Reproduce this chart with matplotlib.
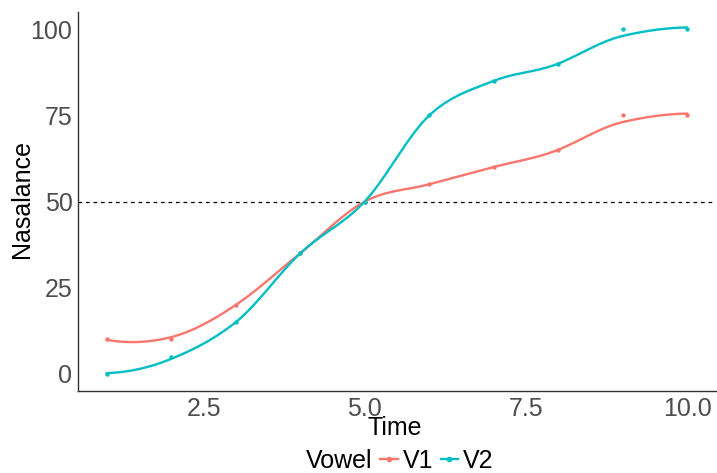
import numpy as np
import matplotlib.pyplot as plt
from matplotlib.lines import Line2D

plt.rcParams['font.family'] = ['Liberation Sans', 'DejaVu Sans']

time = [1, 2, 3, 4, 5, 6, 7, 8, 9, 10]
v1 = [10, 10, 20, 35, 50, 55, 60, 65, 75, 75]
v2 = [0, 5, 15, 35, 50, 75, 85, 90, 100, 100]
vowels = ['V1', 'V2']
colours = ['#F8766D', '#00BFC4']
yticks = [0, 25, 50, 75, 100]
xticks = [2.5, 5.0, 7.5, 10.0]

SPAN = 0.5


def local_fit(x, y, x0, span):
    # quadratic fit around x0 with tricube weights -> value and slope
    q = int(np.floor(len(x) * span))
    d = np.abs(x - x0)
    h = np.sort(d)[q - 1]
    w = np.clip(1 - (d / h) ** 3, 0, None) ** 3
    X = np.vstack([np.ones_like(x), x - x0, (x - x0) ** 2]).T
    W = np.diag(w)
    beta = np.linalg.lstsq(X.T @ W @ X, X.T @ W @ y, rcond=None)[0]
    return beta[0], beta[1]


def kd_vertices(x, span, cell=0.2):
    # split cells at the median point until few enough points are left
    fc = max(int(np.floor(len(x) * span * cell)), 1)
    xs = np.sort(x)
    lo, hi = xs[0], xs[-1]
    mu = 0.005 * (hi - lo)
    verts = [lo - mu, hi + mu]

    def split(pts):
        if len(pts) <= fc:
            return
        m = (len(pts) - 1) // 2
        verts.append(pts[m])
        split(pts[:m + 1])
        split(pts[m + 1:])

    split(xs)
    return np.unique(verts)


def loess(x, y, grid, span=SPAN):
    x = np.asarray(x, float)
    y = np.asarray(y, float)
    v = kd_vertices(x, span)
    fits = np.array([local_fit(x, y, vv, span) for vv in v])
    out = []
    for g in grid:
        i = min(np.searchsorted(v, g, side='right') - 1, len(v) - 2)
        x0, x1 = v[i], v[i + 1]
        hw = x1 - x0
        t = (g - x0) / hw
        y0, s0 = fits[i]
        y1, s1 = fits[i + 1]
        # cubic hermite between vertices
        h00 = 2 * t ** 3 - 3 * t ** 2 + 1
        h10 = t ** 3 - 2 * t ** 2 + t
        h01 = -2 * t ** 3 + 3 * t ** 2
        h11 = t ** 3 - t ** 2
        out.append(h00 * y0 + h10 * hw * s0 + h01 * y1 + h11 * hw * s1)
    return np.array(out)


fig = plt.figure(figsize=(7.17, 4.73), dpi=100)
ax = fig.add_axes([78 / 717, 1 - 391 / 473, (716 - 78) / 717, (391 - 12) / 473])

grid = np.linspace(min(time), max(time), 80)
handles = []
for vals, name, c in zip([v1, v2], vowels, colours):
    ax.plot(grid, loess(time, vals, grid), color=c, lw=1.7, zorder=3)
    ax.scatter(time, vals, s=10, color=c, zorder=4, linewidths=0)
    handles.append(Line2D([], [], color=c, lw=1.7, marker='o', markersize=3, label=name))

ax.axhline(50, color='black', lw=0.9, ls=(0, (3, 3)), zorder=2)

ax.set_xlim(0.55, 10.45)
ax.set_ylim(-5, 105)
ax.set_xticks(xticks)
ax.set_xticklabels(['2.5', '5.0', '7.5', '10.0'])
ax.set_yticks(yticks)
ax.tick_params(length=0, labelsize=18, labelcolor='#4D4D4D', pad=4)
for s in ['top', 'right']:
    ax.spines[s].set_visible(False)
for s in ['left', 'bottom']:
    ax.spines[s].set_color('#333333')
    ax.spines[s].set_linewidth(1.0)

fig.text(395 / 717, 1 - 428 / 473, 'Time', fontsize=18, ha='center', va='center')
fig.text(22 / 717, 1 - 199 / 473, 'Nasalance', fontsize=18, ha='center', va='center',
         rotation=90)

fig.text(339 / 717, 1 - 461 / 473, 'Vowel', fontsize=18, ha='center', va='center')
fig.legend(handles=handles, loc='center left', bbox_to_anchor=(380 / 717, 1 - 461 / 473),
           ncol=2, frameon=False, fontsize=18, handlelength=0.7, handletextpad=0.2,
           columnspacing=0.3, borderpad=0, borderaxespad=0)

fig.savefig('out.png', dpi=100)
